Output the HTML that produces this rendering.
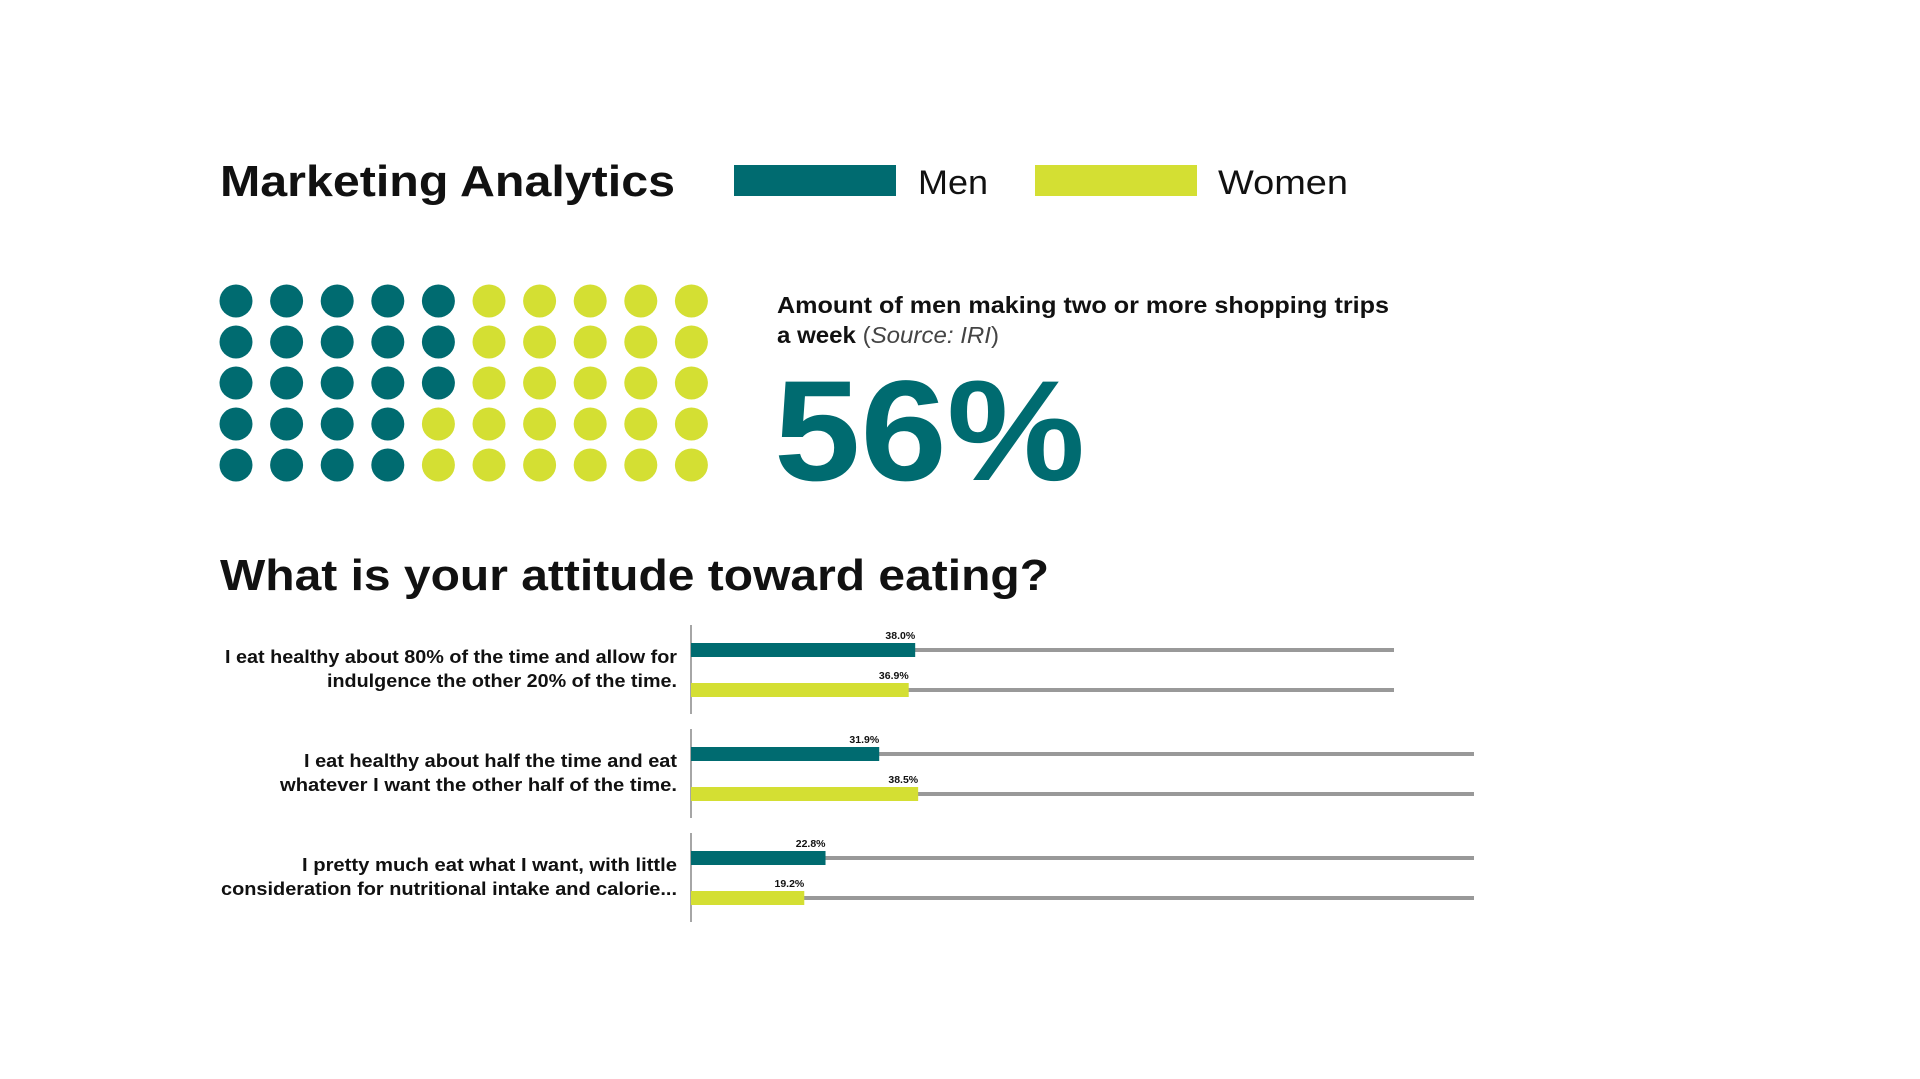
<!DOCTYPE html>
<html><head><meta charset="utf-8"><style>
html,body{margin:0;padding:0;background:#fff;width:1920px;height:1079px;overflow:hidden}
svg{display:block;font-family:"Liberation Sans",sans-serif}
</style></head><body>
<svg id="chart" width="1920" height="1079" viewBox="0 0 1920 1079">
<text x="220" y="196" font-size="44" font-weight="bold" fill="#111" textLength="455" lengthAdjust="spacingAndGlyphs">Marketing Analytics</text>
<rect x="734" y="165" width="162" height="31" fill="#006b70"/>
<text x="918" y="194" font-size="34" fill="#111" textLength="70" lengthAdjust="spacingAndGlyphs">Men</text>
<rect x="1035" y="165" width="162" height="31" fill="#d4df33"/>
<text x="1218" y="194" font-size="34" fill="#111" textLength="130" lengthAdjust="spacingAndGlyphs">Women</text>
<g id="dots"></g>
<text x="777" y="313" font-size="23" font-weight="bold" fill="#111" textLength="612" lengthAdjust="spacingAndGlyphs">Amount of men making two or more shopping trips</text>
<text x="777" y="343" font-size="23" fill="#111" textLength="222" lengthAdjust="spacingAndGlyphs"><tspan font-weight="bold">a week </tspan><tspan fill="#444">(</tspan><tspan font-style="italic" fill="#444">Source: IRI</tspan><tspan fill="#444">)</tspan></text>
<text x="774" y="480" font-size="143" font-weight="bold" fill="#006b70" textLength="311" lengthAdjust="spacingAndGlyphs">56%</text>
<text x="220" y="590" font-size="44" font-weight="bold" fill="#111" textLength="829" lengthAdjust="spacingAndGlyphs">What is your attitude toward eating?</text>
<g id="bars"></g>
</svg>
<script>
const dotRowMenCounts = [5, 5, 5, 4, 4];
const dotColumns = 10;
const categoryLines = [
  ["I eat healthy about 80% of the time and allow for", "indulgence the other 20% of the time."],
  ["I eat healthy about half the time and eat", "whatever I want the other half of the time."],
  ["I pretty much eat what I want, with little", "consideration for nutritional intake and calorie..."]
];
const menValues = [38.0, 31.9, 22.8];
const womenValues = [36.9, 38.5, 19.2];

const NS = "http://www.w3.org/2000/svg";
function mk(tag, attrs, parent) {
  const e = document.createElementNS(NS, tag);
  for (const k in attrs) e.setAttribute(k, attrs[k]);
  parent.appendChild(e);
  return e;
}
const TEAL = "#006b70", LIME = "#d4df33";

// dot grid
const dg = document.getElementById("dots");
dotRowMenCounts.forEach((m, r) => {
  for (let c = 0; c < dotColumns; c++) {
    const d = mk("circle", {cx: 236 + c * 50.6, cy: 301 + r * 41, r: 16.5, fill: c < m ? TEAL : LIME}, dg);
    
    
  }
});

// bar chart
const bg = document.getElementById("bars");
const axisX = 691;
const pxPerPct = 5.9;
const xScale = v => axisX + v * pxPerPct;
const labelWidths = [[452, 350], [373, 397], [375, 456]];
const trackEnds = [1394, 1474, 1474];
categoryLines.forEach((lines, i) => {
  const top = 625 + i * 104;
  const ax = mk("line", {x1: axisX, x2: axisX, y1: top, y2: top + 89, stroke: "#888", "stroke-width": 1.5}, bg);
  
  
  lines.forEach((t, j) => {
    const tx = mk("text", {x: 677, y: top + 38 + j * 24, "font-size": 18, "font-weight": "bold", fill: "#111", "text-anchor": "end", textLength: labelWidths[i][j], lengthAdjust: "spacingAndGlyphs"}, bg);
    tx.textContent = t;
    
    
  });
  [[menValues[i], TEAL, 18, "men"], [womenValues[i], LIME, 58, "women"]].forEach(([v, col, off, nm]) => {
    const y = top + off;
    const tr = mk("rect", {x: axisX, y: y + 5, width: trackEnds[i] - axisX, height: 4, fill: "#999"}, bg);
    
    
    const b = mk("rect", {x: axisX, y: y, width: xScale(v) - axisX, height: 14, fill: col}, bg);
    
    
    const lb = mk("text", {x: xScale(v), y: y - 4, "font-size": 10.5, "font-weight": "bold", fill: "#111", "text-anchor": "end"}, bg);
    lb.textContent = v.toFixed(1) + "%";
    
    
  });
});
</script>
</body></html>
